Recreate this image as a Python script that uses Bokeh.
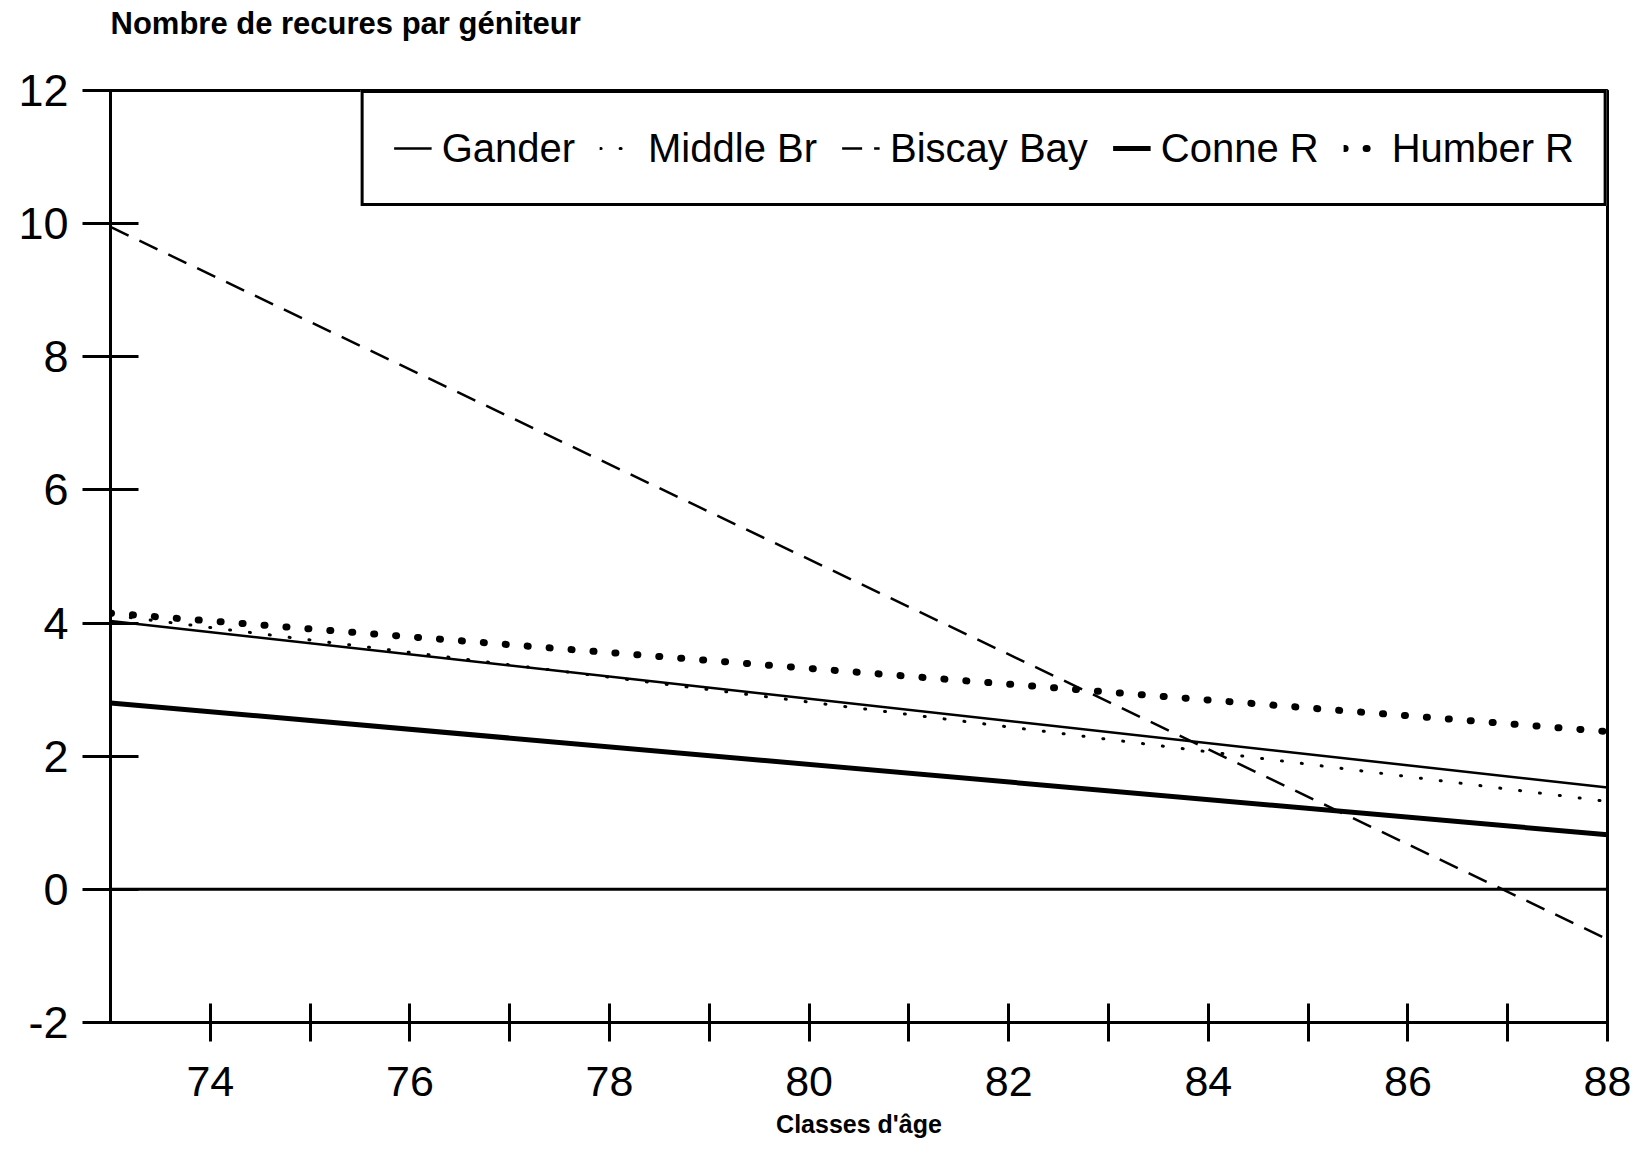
from bokeh.plotting import figure
from bokeh.models import Range1d, FixedTicker, Legend, LegendItem, Span, Title
from bokeh.embed import file_html
from bokeh.resources import INLINE

# ---- data ----
years = [73, 88]
gander = [4.03, 1.53]
middle_br = [4.12, 1.32]
biscay_bay = [9.95, -0.75]
conne_r = [2.80, 0.82]
humber_r = [4.15, 2.37]

series_names = ["Gander", "Middle Br", "Biscay Bay", "Conne R", "Humber R"]
y_ticks = [-2, 0, 2, 4, 6, 8, 10, 12]
y_tick_labels = {t: str(t) for t in y_ticks}
x_ticks = list(range(74, 89))
x_tick_labels = {t: (str(t) if t % 2 == 0 else "") for t in x_ticks}

FONT = "Liberation Sans"

p = figure(width=1640, height=1164, output_backend="svg", toolbar_location=None,
           x_range=Range1d(73, 88), y_range=Range1d(-2, 12),
           min_border_left=110, min_border_right=33, min_border_top=89, min_border_bottom=142)
p.background_fill_color = "white"
p.border_fill_color = "white"
p.outline_line_color = "black"
p.outline_line_width = 3
p.outline_line_alpha = 1
p.xgrid.visible = False
p.ygrid.visible = False

# axes
xa = p.xaxis[0]
xa.ticker = FixedTicker(ticks=x_ticks)
xa.major_label_overrides = x_tick_labels
xa.major_tick_in = 19
xa.major_tick_out = 19
xa.minor_tick_line_color = None
xa.major_tick_line_width = 3
xa.axis_line_width = 3
xa.major_label_text_font = FONT
xa.major_label_text_font_size = "43px"
xa.major_label_text_color = "black"
xa.major_label_standoff = 25
xa.axis_label = "Classes d'âge"
xa.axis_label_text_font = FONT
xa.axis_label_text_font_style = "bold"
xa.axis_label_text_font_size = "25px"
xa.axis_label_text_color = "black"
xa.axis_label_standoff = 11

ya = p.yaxis[0]
ya.ticker = FixedTicker(ticks=y_ticks)
ya.major_label_overrides = y_tick_labels
ya.major_tick_in = 28
ya.major_tick_out = 28
ya.minor_tick_line_color = None
ya.major_tick_line_width = 3
ya.axis_line_width = 3
ya.major_label_text_font = FONT
ya.major_label_text_font_size = "45px"
ya.major_label_text_color = "black"
ya.major_label_standoff = 14

# zero line
p.add_layout(Span(location=0, dimension="width", line_color="black", line_width=3))

# series
r1 = p.line(years, gander, line_color="black", line_width=2.5)
r2 = p.line(years, middle_br, line_color="black", line_width=3, line_dash="1 19", line_cap="round")
r3 = p.line(years, biscay_bay, line_color="black", line_width=2.5, line_dash="20 12")
r4 = p.line(years, conne_r, line_color="black", line_width=5)
r5 = p.line(years, humber_r, line_color="black", line_width=7, line_dash="1 21", line_cap="round")

legend = Legend(items=[LegendItem(label=n, renderers=[r]) for n, r in
                       zip(series_names, [r1, r2, r3, r4, r5])],
                orientation="horizontal", location="top_right", margin=0,
                padding=30, spacing=25, glyph_width=38, label_standoff=10,
                label_text_font=FONT, label_text_font_size="40px", label_height=50,
                label_text_color="black",
                border_line_color="black", border_line_width=3, border_line_alpha=1,
                background_fill_color="white", background_fill_alpha=1)
p.add_layout(legend, "center")

# spacer between the frame and the y-axis title
p.add_layout(Title(text=" ", text_font_size="1px", standoff=40), "above")
# y axis title (top left)
p.add_layout(Title(text="Nombre de recures par géniteur", text_font=FONT,
                   text_font_style="bold", text_font_size="31px", text_color="black",
                   align="left", offset=0, standoff=10, vertical_align="top"), "above")

open("out.html", "w").write(file_html(p, INLINE))
